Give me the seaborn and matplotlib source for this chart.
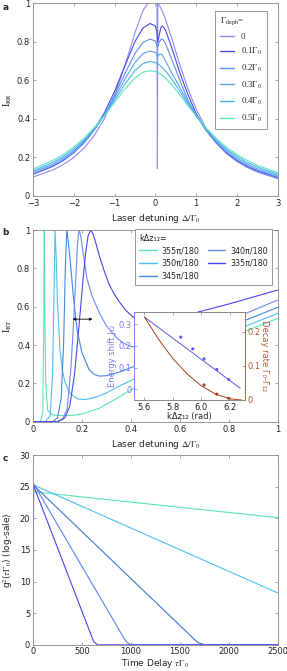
import pandas as pd
import seaborn as sns
import matplotlib.pyplot as plt
from matplotlib.lines import Line2D

# ---------------- panel a : reflection spectra vs dephasing ----------------
det_a = [-3, -2.5, -2.25, -2, -1.75, -1.5, -1.25, -1, -0.75, -0.5, -0.3, -0.13, 0.0, 0.04, 0.05, 0.06,
         0.1, 0.13, 0.16, 0.2, 0.25, 0.4, 0.6, 0.8, 1.0, 1.25, 1.5, 1.75, 2.0, 2.25, 2.5, 3.0]
irr_00 = [0.097, 0.135, 0.163, 0.199, 0.247, 0.312, 0.401, 0.521, 0.674, 0.847, 0.964, 1.016, 1.015, 1.006, 0.14, 1.001,
          0.988, 0.977, 0.964, 0.944, 0.916, 0.819, 0.681, 0.555, 0.450, 0.348, 0.273, 0.218, 0.178, 0.147, 0.123, 0.089]
irr_01 = [0.111, 0.154, 0.184, 0.224, 0.275, 0.343, 0.431, 0.542, 0.673, 0.801, 0.873, 0.895, 0.882, 0.85, 0.82, 0.80,
          0.84, 0.87, 0.882, 0.876, 0.86, 0.77, 0.64, 0.525, 0.427, 0.340, 0.273, 0.222, 0.183, 0.153, 0.129, 0.095]
irr_02 = [0.114, 0.157, 0.188, 0.226, 0.276, 0.340, 0.421, 0.521, 0.633, 0.739, 0.797, 0.814, 0.804, 0.78, 0.77, 0.775,
          0.80, 0.81, 0.815, 0.808, 0.79, 0.71, 0.60, 0.496, 0.418, 0.337, 0.274, 0.225, 0.186, 0.156, 0.133, 0.098]
irr_03 = [0.121, 0.165, 0.196, 0.234, 0.283, 0.344, 0.420, 0.509, 0.605, 0.692, 0.739, 0.752, 0.744, 0.73, 0.72, 0.725,
          0.735, 0.735, 0.735, 0.72, 0.70, 0.639, 0.563, 0.486, 0.416, 0.341, 0.281, 0.233, 0.194, 0.164, 0.140, 0.105]
irr_04 = [0.129, 0.174, 0.205, 0.243, 0.290, 0.348, 0.418, 0.497, 0.579, 0.650, 0.687, 0.698, 0.692, 0.684, 0.68, 0.685,
          0.679, 0.674, 0.668, 0.660, 0.648, 0.607, 0.543, 0.477, 0.415, 0.346, 0.288, 0.241, 0.204, 0.173, 0.149, 0.112]
irr_05 = [0.138, 0.185, 0.215, 0.253, 0.298, 0.353, 0.416, 0.485, 0.554, 0.612, 0.642, 0.650, 0.645, 0.642, 0.641, 0.640,
          0.635, 0.631, 0.626, 0.620, 0.611, 0.577, 0.525, 0.468, 0.413, 0.351, 0.297, 0.251, 0.214, 0.184, 0.158, 0.120]
deph_labels = ["0", r"0.1$\Gamma_0$", r"0.2$\Gamma_0$", r"0.3$\Gamma_0$", r"0.4$\Gamma_0$", r"0.5$\Gamma_0$"]
deph_colors = ["#8a8afa", "#4848e4", "#5c90f4", "#5aa2ee", "#46b2f0", "#5ee2c2"]

# ---------------- panel b : transmission near the Fano peak ----------------
det_355 = [0, 0.03, 0.04, 0.044, 0.046, 0.048, 0.052, 0.06, 0.08, 0.12, 0.16, 0.2, 0.27, 0.34, 0.41,
           0.5, 0.6, 0.7, 0.8, 0.87, 1.0]
irt_355 = [0, 0.0, 0.05, 0.5, 1.0, 0.6, 0.2, 0.06, 0.035, 0.032, 0.033, 0.04, 0.07, 0.12, 0.174,
           0.24, 0.31, 0.375, 0.435, 0.473, 0.539]
det_350 = [0, 0.05, 0.07, 0.08, 0.085, 0.09, 0.095, 0.1, 0.11, 0.12, 0.13, 0.15, 0.18, 0.21, 0.25, 0.3, 0.35,
           0.41, 0.5, 0.6, 0.7, 0.8, 0.87, 1.0]
irt_350 = [0, 0.0, 0.03, 0.25, 0.6, 1.0, 0.85, 0.62, 0.38, 0.27, 0.21, 0.15, 0.12, 0.115, 0.125, 0.15, 0.185,
           0.22, 0.28, 0.34, 0.40, 0.455, 0.499, 0.565]
det_345 = [0, 0.08, 0.1, 0.115, 0.125, 0.132, 0.138, 0.145, 0.155, 0.165, 0.18, 0.2, 0.23, 0.25, 0.27, 0.3,
           0.35, 0.41, 0.5, 0.6, 0.8, 0.87, 1.0]
irt_345 = [0, 0.0, 0.02, 0.12, 0.4, 0.8, 1.0, 0.93, 0.8, 0.65, 0.48, 0.36, 0.27, 0.247, 0.238, 0.24,
           0.258, 0.287, 0.34, 0.40, 0.49, 0.53, 0.597]
det_340 = [0, 0.1, 0.12, 0.14, 0.155, 0.165, 0.175, 0.182, 0.188, 0.195, 0.205, 0.22, 0.24, 0.27, 0.3,
           0.34, 0.37, 0.4, 0.44, 0.5, 0.6, 0.8, 0.87, 1.0]
irt_340 = [0, 0.0, 0.01, 0.07, 0.28, 0.5, 0.75, 0.93, 1.0, 0.97, 0.88, 0.75, 0.66, 0.57, 0.5,
           0.44, 0.41, 0.392, 0.386, 0.395, 0.43, 0.52, 0.565, 0.635]
det_335 = [0, 0.1, 0.13, 0.15, 0.17, 0.19, 0.205, 0.215, 0.225, 0.236, 0.245, 0.255, 0.27, 0.29, 0.31, 0.33,
           0.35, 0.38, 0.41, 0.45, 0.5, 0.55, 0.6, 0.68, 0.8, 1.0]
irt_335 = [0, 0.0, 0.02, 0.08, 0.25, 0.53, 0.75, 0.88, 0.97, 1.0, 0.98, 0.94, 0.87, 0.79, 0.72, 0.67,
           0.63, 0.58, 0.545, 0.525, 0.52, 0.527, 0.54, 0.574, 0.614, 0.687]
kdz_labels = ["355π/180", "350π/180", "345π/180", "340π/180", "335π/180"]
kdz_colors = ["#58e4bc", "#4cc0f4", "#3f88e8", "#6a8af4", "#4a44ee"]
fwhm_y = 0.535
fwhm_x = [0.162, 0.243]

# inset: energy shift and decay rate vs k*dz12
kdz_pts = [5.855, 5.939, 6.018, 6.107, 6.191]
j12_pts = [0.24, 0.186, 0.14, 0.091, 0.045]
kdz_fit = [5.605, 6.271]
j12_fit = [0.330, 0.005]
kdz_dec_pts = [6.018, 6.107, 6.19]
dec_pts = [0.044, 0.017, 0.005]
kdz_dec_fit = [5.6, 5.7, 5.8, 5.9, 6.0, 6.1, 6.2, 6.28]
dec_fit = [0.243, 0.177, 0.121, 0.076, 0.041, 0.017, 0.0034, 0.0]

# ---------------- panel c : g2 decay ----------------
tau_355 = [0, 2500]
g2_355 = [24.2, 20.1]
tau_350 = [0, 2500]
g2_350 = [25.3, 8.2]
tau_345 = [0, 1680, 1750, 2500]
g2_345 = [25.3, 0.4, 0.0, 0.0]
tau_340 = [0, 8, 950, 1000, 2500]
g2_340 = [13.8, 25.4, 0.5, 0.0, 0.0]
tau_335 = [0, 620, 660, 2500]
g2_335 = [25.4, 0.5, 0.0, 0.0]

# ---------------- style ----------------
sns.set_style("ticks")
plt.rcParams["font.family"] = ["DejaVu Sans"]
plt.rcParams["mathtext.fontset"] = "stix"
plt.rcParams["font.size"] = 6
plt.rcParams["axes.linewidth"] = 0.6
plt.rcParams["axes.edgecolor"] = "#888888"

fig = plt.figure(figsize=(2.87, 6.71), dpi=100)
ax_a = fig.add_axes([0.115, 0.7083, 0.8526, 0.2868])
ax_b = fig.add_axes([0.115, 0.3715, 0.8526, 0.2857])
ax_c = fig.add_axes([0.115, 0.0390, 0.8526, 0.2829])


def style_axes(ax):
    ax.tick_params(direction="in", length=2.5, width=0.5, top=True, right=True,
                   labelsize=6, pad=2, colors="#888888", labelcolor="#222222")


def handles_for(colors):
    return [Line2D([], [], color=c, linewidth=1.0) for c in colors]


# panel a
df_a = pd.concat([pd.DataFrame({"det": det_a, "I": ys, "g": lab})
                  for lab, ys in zip(deph_labels, [irr_00, irr_01, irr_02, irr_03, irr_04, irr_05])])
sns.lineplot(data=df_a, x="det", y="I", hue="g", hue_order=deph_labels,
             palette=dict(zip(deph_labels, deph_colors)), sort=False, estimator=None,
             linewidth=0.8, legend=False, ax=ax_a)
ax_a.set_xlim(-3, 3)
ax_a.set_ylim(0, 1)
ax_a.set_xticks([-3, -2, -1, 0, 1, 2, 3])
ax_a.set_yticks([0, 0.2, 0.4, 0.6, 0.8, 1])
ax_a.set_yticklabels(["0", "0.2", "0.4", "0.6", "0.8", "1"])
ax_a.set_xlabel(r"Laser detuning $\Delta/\Gamma_0$", fontsize=6.5, labelpad=3)
ax_a.set_ylabel(r"$\mathrm{I}_{\mathrm{RR}}$", fontsize=7, labelpad=2)
style_axes(ax_a)
leg = ax_a.legend(handles_for(deph_colors), deph_labels, title=r"$\Gamma_{\mathrm{deph}}$=", loc="upper right",
                  bbox_to_anchor=(0.956, 0.962), borderaxespad=0, fancybox=False,
                  edgecolor="#888888", framealpha=1, prop={"family": "Liberation Serif", "size": 6.3},
                  handlelength=1.6, handletextpad=0.8, labelspacing=0.62, borderpad=0.55)
leg.get_title().set_fontfamily("Liberation Serif")
leg.get_title().set_fontsize(6.3)
leg._legend_box.align = "left"
leg.get_frame().set_linewidth(0.6)

# panel b
curves_b = [(det_355, irt_355), (det_350, irt_350), (det_345, irt_345), (det_340, irt_340), (det_335, irt_335)]
df_b = pd.concat([pd.DataFrame({"det": xs, "I": ys, "k": lab})
                  for lab, (xs, ys) in zip(kdz_labels, curves_b)])
sns.lineplot(data=df_b, x="det", y="I", hue="k", hue_order=kdz_labels,
             palette=dict(zip(kdz_labels, kdz_colors)), sort=False, estimator=None,
             linewidth=0.8, legend=False, ax=ax_b)
ax_b.set_xlim(0, 1)
ax_b.set_ylim(0, 1)
ax_b.set_xticks([0, 0.2, 0.4, 0.6, 0.8, 1])
ax_b.set_xticklabels(["0", "0.2", "0.4", "0.6", "0.8", "1"])
ax_b.set_yticks([0, 0.2, 0.4, 0.6, 0.8, 1])
ax_b.set_yticklabels(["0", "0.2", "0.4", "0.6", "0.8", "1"])
ax_b.set_xlabel(r"Laser detuning $\Delta/\Gamma_0$", fontsize=6.5, labelpad=3)
ax_b.set_ylabel(r"$\mathrm{I}_{\mathrm{RT}}$", fontsize=7, labelpad=2)
style_axes(ax_b)
ax_b.annotate("", xy=(fwhm_x[0], fwhm_y), xytext=(fwhm_x[1], fwhm_y),
              arrowprops=dict(arrowstyle="<|-|>", color="black", lw=0.6,
                              mutation_scale=4, shrinkA=0, shrinkB=0))
leg = ax_b.legend(handles_for(kdz_colors), kdz_labels, title="kΔz₁₂=", ncol=2, loc="upper right",
                  bbox_to_anchor=(0.978, 1.004), borderaxespad=0, fancybox=False,
                  edgecolor="#888888", framealpha=1, fontsize=5.8, title_fontsize=5.8,
                  handlelength=2.2, handletextpad=0.6, labelspacing=0.45, columnspacing=1.0,
                  borderpad=0.55)
leg._legend_box.align = "left"
leg.get_frame().set_linewidth(0.6)

# inset
blue_c = "#5a5af0"
red_c = "#a8401e"
ax_in = fig.add_axes([0.467, 0.4039, 0.3868, 0.1316])
ax_in.set_zorder(5)
ax_in.set_facecolor("white")
sns.lineplot(x=kdz_fit, y=j12_fit, color=blue_c, linewidth=0.7, ax=ax_in)
sns.scatterplot(x=kdz_pts, y=j12_pts, color=blue_c, s=5, edgecolor="none", ax=ax_in)
ax_in.set_xlim(5.528, 6.305)
ax_in.set_ylim(-0.049, 0.357)
ax_in.set_xticks([5.6, 5.8, 6.0, 6.2])
ax_in.set_xticklabels(["5.6", "5.8", "6.0", "6.2"])
ax_in.set_yticks([0, 0.1, 0.2, 0.3])
ax_in.set_yticklabels(["0", "0.1", "0.2", "0.3"])
ax_in.tick_params(direction="in", length=2, width=0.5, labelsize=6, pad=2, top=True)
ax_in.tick_params(axis="x", colors="#888888", labelcolor="#222222")
ax_in.tick_params(axis="y", colors="#7a7af2", labelcolor="#7a7af2")
ax_in.set_xlabel("kΔz₁₂ (rad)", fontsize=6, labelpad=0)
ax_in.set_ylabel("Energy shift J₁₂", fontsize=6, color="#7a7af2", labelpad=1)
ax_in.spines["left"].set_color("#7a7af2")

ax_in2 = ax_in.twinx()
sns.lineplot(x=kdz_dec_fit, y=dec_fit, color=red_c, linewidth=0.7, ax=ax_in2)
sns.scatterplot(x=kdz_dec_pts, y=dec_pts, color=red_c, s=5, edgecolor="none", ax=ax_in2)
ax_in2.set_ylim(0, 0.258)
ax_in2.set_yticks([0, 0.1, 0.2])
ax_in2.set_yticklabels(["0", "0.1", "0.2"])
ax_in2.tick_params(direction="in", length=2, width=0.5, labelsize=6, pad=2,
                   colors="#c0603e", labelcolor="#b8583a")
ax_in2.set_ylabel("Decay rate Γ₀-Γ₁₂", fontsize=6, color="#b8583a", rotation=-90, labelpad=6)
ax_in2.spines["right"].set_color("#c0603e")
ax_in2.spines["left"].set_color("#7a7af2")

# panel c
curves_c = [(tau_355, g2_355), (tau_350, g2_350), (tau_345, g2_345), (tau_340, g2_340), (tau_335, g2_335)]
df_c = pd.concat([pd.DataFrame({"tau": xs, "g2": ys, "k": lab})
                  for lab, (xs, ys) in zip(kdz_labels, curves_c)])
sns.lineplot(data=df_c, x="tau", y="g2", hue="k", hue_order=kdz_labels,
             palette=dict(zip(kdz_labels, ["#58e4bc", "#4cc0f4", "#3c78d6", "#5a86f2", "#4a44ee"])),
             sort=False, estimator=None, linewidth=0.8, legend=False, ax=ax_c)
ax_c.set_xlim(0, 2500)
ax_c.set_ylim(0, 30)
ax_c.set_xticks([0, 500, 1000, 1500, 2000, 2500])
ax_c.set_yticks([0, 5, 10, 15, 20, 25, 30])
ax_c.set_xlabel(r"Time Delay $\tau\Gamma_0$", fontsize=6.5, labelpad=0.5)
ax_c.set_ylabel(r"g$^2$($\tau\Gamma_0$) (log-sale)", fontsize=6.5, labelpad=3)
style_axes(ax_c)
ax_c.tick_params(axis="x", pad=1.5)

for lab, ypos in zip(["a", "b", "c"], [0.995, 0.66, 0.323]):
    fig.text(0.008, ypos, lab, fontsize=6.5, fontweight="bold", va="top", ha="left")

plt.savefig("out.png", dpi=100)
